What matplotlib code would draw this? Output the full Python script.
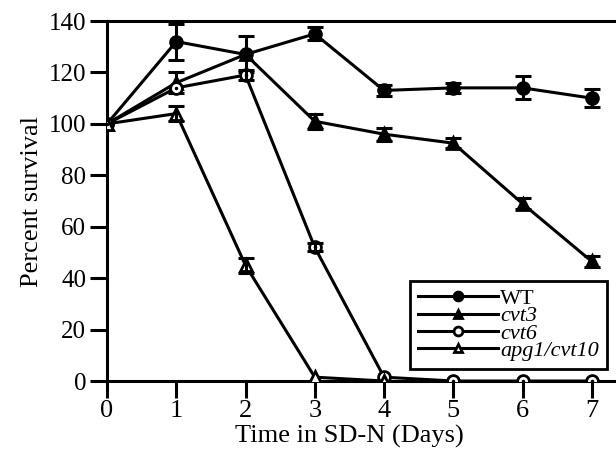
import numpy as np
import matplotlib
matplotlib.use('Agg')
import matplotlib.pyplot as plt

# Данные
days = [0, 1, 2, 3, 4, 5, 6, 7]
wt = [100, 132, 127, 135, 113, 114, 114, 110]
wt_err = [np.nan, 7, 7, 2.5, 2, 2, 4.5, 3.5]
cvt3 = [100, 116, 127, 101, 96, 92.5, 69, 46.5]
cvt3_err = [np.nan, 4, np.nan, 3, 2.5, 2, 2, 2]
cvt6 = [100, 114, 119, 52, 1.5, 0, 0, 0]
cvt6_err = [np.nan, np.nan, 2, 1.5, np.nan, np.nan, np.nan, np.nan]
apg_days = [0, 1, 2, 3, 4]
apg1 = [100, 104, 45, 1.5, 0]
apg1_err = [np.nan, 3, 3, np.nan, np.nan]

labels = ['WT', 'cvt3', 'cvt6', 'apg1/cvt10']
xticks = [0, 1, 2, 3, 4, 5, 6, 7]
yticks = [0, 20, 40, 60, 80, 100, 120, 140]

plt.rcParams['font.family'] = ['Liberation Serif', 'DejaVu Serif']

fig = plt.figure(figsize=(6.16, 4.49), dpi=100)
ax = fig.add_axes([0.1737, 0.1514, 0.8263, 0.8018])

series = [
    (days, wt, wt_err, 'o', 'black'),
    (days, cvt3, cvt3_err, '^', 'black'),
    (days, cvt6, cvt6_err, 'o', 'white'),
    (apg_days, apg1, apg1_err, '^', 'white'),
]

handles = []
for (x, y, err, m, face), lab in zip(series, labels):
    line, = ax.plot(x, y, color='black', lw=2.2, marker=m, ms=8.5,
                    mfc=face, mec='black', mew=2, label=lab, zorder=3)
    handles.append(line)
    # усы погрешностей только там, где они есть
    e = np.array(err, dtype=float)
    ok = np.isfinite(e)
    ax.errorbar(np.array(x)[ok], np.array(y)[ok], yerr=e[ok], fmt='none',
                ecolor='black', elinewidth=2.2, capsize=6, capthick=2.2, zorder=3)

# точка в центре открытого кружка cvt6
ax.plot(days, cvt6, ls='none', marker='.', ms=3, color='black', zorder=4)

ax.set_xlim(0, 7.35)
ax.set_ylim(0, 140)
ax.set_xticks(xticks)
ax.set_yticks(yticks)
ax.tick_params(axis='x', direction='out', length=12, width=2.2, labelsize=19, pad=2)
ax.tick_params(axis='y', direction='out', length=12, width=2.2, labelsize=18, pad=3)

for s in ['left', 'bottom', 'top']:
    ax.spines[s].set_linewidth(2.2)
ax.spines['right'].set_visible(False)

ax.set_xlabel('Time in SD-N (Days)', fontsize=19)
ax.xaxis.set_label_coords(0.477, -0.122)
ax.set_ylabel('Percent survival', fontsize=19, labelpad=4)

leg = ax.legend(handles=handles, loc='upper right', bbox_to_anchor=(0.982, 0.278),
                borderaxespad=0, fontsize=16, handlelength=3.6, handletextpad=0.1,
                labelspacing=-0.15, borderpad=0.35, fancybox=False,
                edgecolor='black', framealpha=1, markerscale=0.75)
leg.get_frame().set_linewidth(2)
for t in leg.get_texts()[1:]:
    t.set_style('italic')

plt.savefig('out.png', dpi=100)
